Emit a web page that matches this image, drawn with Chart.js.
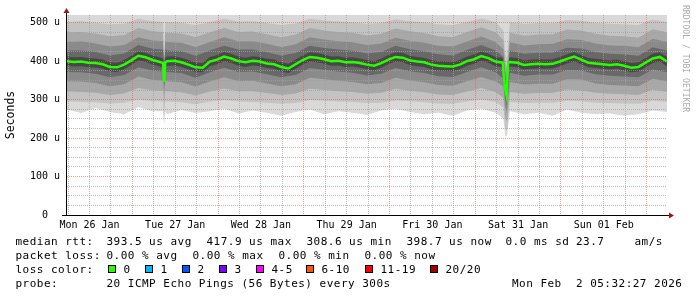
<!DOCTYPE html>
<html><head><meta charset="utf-8">
<script src="https://cdn.jsdelivr.net/npm/chart.js@4.4.1/dist/chart.umd.min.js"></script>
<style>
html,body{margin:0;padding:0;background:#fff;overflow:hidden;}
#wrap{position:relative;width:697px;height:297px;overflow:hidden;background:#fff;}
#c{position:absolute;left:0;top:0;}
.t{position:absolute;font-family:'DejaVu Sans Mono',monospace;font-size:11px;letter-spacing:0.48px;line-height:13px;white-space:pre;color:#000;}
.b{position:absolute;width:6px;height:6px;border:1px solid #000;}
</style></head>
<body><div id="wrap"><canvas id="c" width="697" height="297"></canvas></div>
<script>
// ---- data (hours from left edge of the 7-day window, values in microseconds) ----
const HOURS = [0,2,4,6,8,10,12,14,16,18,20,22,24,26,26.9,27.2,27.5,28,30,32,34,36,38,40,42,44,46,48,50,52,54,56,58,60,62,64,66,68,70,72,74,76,78,80,82,84,86,88,90,92,94,96,98,100,102,104,106,108,110,112,114,116,118,120,122,122.3,122.7,123.1,123.5,124,126,128,130,132,134,136,138,140,142,144,146,148,150,152,154,156,158,160,162,164,166,168];
const MEDIAN = [400,398,399,396,395,392,385,384,391,402,414,410,403,398,395,346,396,400,401,397,391,384,383,399,404,412,407,400,397,401,399,394,392,385,381,392,403,411,409,405,400,401,397,398,395,391,388,395,404,411,409,402,399,397,391,388,387,386,391,400,405,413,408,399,396,362,326,309,395,398,396,390,392,393,392,393,399,406,412,404,396,394,392,390,392,388,383,385,396,407,411,399];
const CORE_HI = [412,410,411,408,407,404,397,396,403,414,426,422,415,410,407,384,408,412,413,409,403,396,395,411,416,424,419,412,409,413,411,406,404,397,393,404,415,423,421,417,412,413,409,410,407,403,400,407,416,423,421,414,411,409,403,400,399,398,403,412,417,425,420,411,408,376,345,330,407,410,408,402,404,405,404,405,411,418,424,416,408,406,404,402,404,400,395,397,408,419,423,411];
const CORE_LO = [388,386,387,384,383,380,373,372,379,390,402,398,391,386,383,340,384,388,389,385,379,372,371,387,392,400,395,388,385,389,387,382,380,373,369,380,391,399,397,393,388,389,385,386,383,379,376,383,392,399,397,390,387,385,379,376,375,374,379,388,393,401,396,387,384,350,312,297,383,386,384,378,380,381,380,381,387,394,400,392,384,382,380,378,380,376,371,373,384,395,399,387];

const OUT_HOURS = [0,4,8,12,16,20,24,26.9,27.2,27.5,28,32,36,40,44,48,52,56,60,64,68,72,76,80,84,88,92,96,100,104,108,112,116,120,122.2,122.7,123.2,124,128,132,136,140,144,148,152,156,160,164,168];
const SMOKE_U4 = [428,428,424,415,420,442,432,430,392,430,428,426,414,428,440,430,430,423,415,421,440,434,430,427,420,424,440,431,426,418,415,429,442,428,410,360,345,427,419,422,422,435,433,423,419,417,414,436,428];
const SMOKE_U3 = [450,452,446,438,442,462,454,452,398,452,450,448,437,450,462,452,452,445,437,444,462,456,452,449,442,446,461,453,448,440,438,451,464,450,430,375,360,449,441,444,445,457,455,446,441,440,436,458,450];
const SMOKE_U2 = [475,476,472,465,468,486,478,476,405,476,474,472,463,475,486,476,477,470,462,469,486,480,476,474,467,471,485,478,473,465,463,476,488,475,455,395,380,474,466,469,470,482,480,471,466,465,461,483,475];
const SMOKE_U1 = [502,504,500,496,498,510,504,502,412,502,502,500,494,502,510,503,504,499,494,498,510,506,503,501,497,499,509,504,501,496,494,502,511,502,480,420,410,501,497,499,499,507,505,499,497,496,494,508,502];
const SMOKE_L4 = [372,371,367,358,364,384,375,373,335,373,372,369,357,371,383,372,373,366,358,364,382,377,373,370,363,367,382,374,369,361,359,372,384,371,355,300,285,370,362,365,365,377,376,366,362,360,358,378,371];
const SMOKE_L3 = [348,347,343,335,340,360,351,349,318,349,348,345,334,347,358,348,349,342,335,340,357,353,349,346,340,343,357,350,345,338,336,348,359,347,335,280,268,346,339,341,341,353,352,342,338,337,335,354,347];
const SMOKE_L2 = [322,320,318,312,316,330,324,323,290,323,322,319,311,321,329,322,322,317,312,316,328,325,322,320,315,318,328,323,319,313,312,321,330,320,305,250,245,320,315,317,317,326,324,318,315,314,312,326,320];
const SMOKE_L1 = [296,294,293,290,292,300,296,295,255,295,295,293,288,295,299,295,294,292,289,291,299,297,295,294,291,292,298,296,293,290,289,295,300,294,280,225,220,294,291,292,292,297,296,292,291,290,289,297,294];
const SMOKE_L0 = [274,265,278,268,262,280,270,270,232,270,262,273,265,270,276,264,272,266,258,268,274,262,270,266,260,272,276,268,262,266,258,272,276,266,250,205,205,270,262,266,258,274,266,262,264,258,262,272,268];

const DAY_LABELS = ['Mon 26 Jan','Tue 27 Jan','Wed 28 Jan','Thu 29 Jan','Fri 30 Jan','Sat 31 Jan','Sun 01 Feb'];
const Y_LABELS = {0:'0',100:'100 u',200:'200 u',300:'300 u',400:'400 u',500:'500 u'};
const LOSS_LABELS = ['0','1','2','3','4-5','6-10','11-19','20/20'];
const LOSS_COLORS = ['#26ff00','#00b8ff','#0059ff','#7e00ff','#ff00ff','#ff5500','#ff0000','#a10000'];
const LEGEND_LINES = [
  [['median rtt:',16],['393.5 us avg',107],['417.9 us max',207],['308.6 us min',307],['398.7 us now',407],['0.0 ms sd',506],['23.7',576.5],['am/s',635]],
  [['packet loss:',16],['0.00 % avg',107],['0.00 % max',193],['0.00 % min',279],['0.00 % now',365]],
  [['loss color:',16]],
  [['probe:',16],['20 ICMP Echo Pings (56 Bytes) every 300s',107],['Mon Feb  2 05:32:27 2026',512.5]]
];

// ---- layout constants ----
const FIRST_GRID_H = 0.3, MIDNIGHT_H = 18.3, FIRST_NOON_H = 6.3;
const BASELINES = [245, 259, 273, 287];
const BOX_X = [108,145,182,219,256,306,365,430];

const pts = (hs, vs) => hs.map((h, i) => ({x: h, y: vs[i]}));
const layer = (hs, vs, fill, color) => ({type:'line', data: pts(hs, vs), fill, backgroundColor: color,
  borderColor:'rgba(0,0,0,0)', borderWidth:0, pointRadius:0, tension:0});

const datasets = [
  layer(HOURS, MEDIAN, 'end', '#474747'),
  layer(HOURS, CORE_HI, 'end', '#686868'),
  layer(OUT_HOURS, SMOKE_U4, 'end', '#8a8a8a'),
  layer(OUT_HOURS, SMOKE_U3, 'end', '#a8a8a8'),
  layer(OUT_HOURS, SMOKE_U2, 'end', '#c3c3c3'),
  layer(OUT_HOURS, SMOKE_U1, 'end', '#d9d9d9'),
  layer(HOURS, MEDIAN, 'start', '#474747'),
  layer(HOURS, CORE_LO, 'start', '#686868'),
  layer(OUT_HOURS, SMOKE_L4, 'start', '#8a8a8a'),
  layer(OUT_HOURS, SMOKE_L3, 'start', '#a8a8a8'),
  layer(OUT_HOURS, SMOKE_L2, 'start', '#c3c3c3'),
  layer(OUT_HOURS, SMOKE_L1, 'start', '#d9d9d9'),
  layer(OUT_HOURS, SMOKE_L0, 'start', '#ffffff'),
  {type:'line', data: pts(HOURS, MEDIAN), fill:false, borderColor:'#26ff00', borderWidth:2.5, pointRadius:0, tension:0}
];
datasets.forEach((d, i) => { d.order = datasets.length - i; });

const isMidnight = v => Math.abs(((v - MIDNIGHT_H) % 24 + 24) % 24) < 0.01;
const noonIndex = v => { const k = (v - FIRST_NOON_H) / 24; return Math.abs(k - Math.round(k)) < 0.01 ? Math.round(k) : -1; };

const MINOR = 'rgba(160,160,160,0.75)', MAJOR = 'rgba(225,90,90,0.6)';

const overlay = {
  id: 'overlay',
  beforeDatasetDraw(chart, args) {
    if (args.index !== chart.data.datasets.length - 1) return;
    const a = chart.chartArea;
    chart.scales.x.drawGrid(a);
    chart.scales.y.drawGrid(a);
    const ctx = chart.ctx;
    ctx.save();
    ctx.strokeStyle = '#000'; ctx.lineWidth = 1; ctx.setLineDash([]);
    ctx.beginPath();
    ctx.moveTo(62, 215.5); ctx.lineTo(670, 215.5);
    ctx.moveTo(66.5, 216); ctx.lineTo(66.5, 12);
    ctx.stroke();
    ctx.restore();
  },
  afterDraw(chart) {
    const ctx = chart.ctx;
    ctx.save();
    ctx.fillStyle = '#a01818';
    ctx.beginPath(); ctx.moveTo(63.5, 13); ctx.lineTo(69.5, 13); ctx.lineTo(66.5, 8); ctx.closePath(); ctx.fill();
    ctx.beginPath(); ctx.moveTo(669, 212.5); ctx.lineTo(669, 218.5); ctx.lineTo(674, 215.5); ctx.closePath(); ctx.fill();
    ctx.translate(685, 5); ctx.rotate(Math.PI / 2);
    ctx.fillStyle = '#ababab';
    ctx.font = '8.1px "DejaVu Sans Mono"';
    ctx.textBaseline = 'middle';
    ctx.fillText('RRDTOOL / TOBI OETIKER', 0, 0);
    ctx.restore();
  }
};

new Chart(document.getElementById('c'), {
  type: 'line',
  data: { datasets },
  options: {
    responsive: false, animation: false, devicePixelRatio: 1,
    layout: { padding: { top: 15, right: 30, left: 0, bottom: 0 } },
    plugins: { legend: { display: false }, tooltip: { enabled: false }, title: { display: false } },
    scales: {
      x: {
        type: 'linear', min: 0, max: 168,
        afterBuildTicks: s => { const t = []; for (let h = FIRST_GRID_H; h <= 168; h += 6) t.push({value: Math.round(h * 10) / 10}); s.ticks = t; },
        afterFit: s => { s.height = 82; },
        ticks: { autoSkip: false, maxRotation: 0, minRotation: 0, padding: 4, color: '#000',
          font: { family: 'DejaVu Sans Mono', size: 10 },
          callback: v => { const k = noonIndex(v); return k >= 0 && k < DAY_LABELS.length ? DAY_LABELS[k] : ''; } },
        grid: { drawTicks: false, lineWidth: 1, color: c => isMidnight(c.tick.value) ? MAJOR : MINOR },
        border: { display: false, dash: [1, 1] }
      },
      y: {
        type: 'linear', min: 0, max: 520,
        afterBuildTicks: s => { const t = []; for (let v = 0; v <= 500; v += 25) t.push({value: v}); s.ticks = t; },
        afterFit: s => { s.width = 67; },
        ticks: { autoSkip: false, padding: 7, crossAlign: 'center', color: '#000',
          font: { family: 'DejaVu Sans Mono', size: 10 },
          callback: v => (Y_LABELS[v] !== undefined ? Y_LABELS[v] : '') },
        grid: { drawTicks: false, lineWidth: 1, color: c => (c.tick.value % 100 === 0 ? MAJOR : MINOR) },
        border: { display: false, dash: [1, 1] },
        title: { display: true, text: 'Seconds', color: '#000', padding: { top: 4.1, bottom: 0 },
          font: { family: 'DejaVu Sans Mono', size: 11.5 } }
      }
    }
  },
  plugins: [overlay]
});

// ---- text legend below the chart ----
const wrap = document.getElementById('wrap');
LEGEND_LINES.forEach((items, li) => {
  items.forEach(([txt, x]) => {
    const d = document.createElement('div');
    d.className = 't'; d.textContent = txt;
    d.style.left = (x - 0.5) + 'px'; d.style.top = (BASELINES[li] - 10.5) + 'px';
    wrap.appendChild(d);
  });
});
LOSS_LABELS.forEach((lab, i) => {
  const b = document.createElement('div');
  b.className = 'b'; b.style.background = LOSS_COLORS[i];
  b.style.left = BOX_X[i] + 'px'; b.style.top = (BASELINES[2] - 8) + 'px';
  wrap.appendChild(b);
  const d = document.createElement('div');
  d.className = 't'; d.textContent = lab;
  d.style.left = (BOX_X[i] + 15.5) + 'px'; d.style.top = (BASELINES[2] - 10.5) + 'px';
  wrap.appendChild(d);
});
</script>
</body></html>
